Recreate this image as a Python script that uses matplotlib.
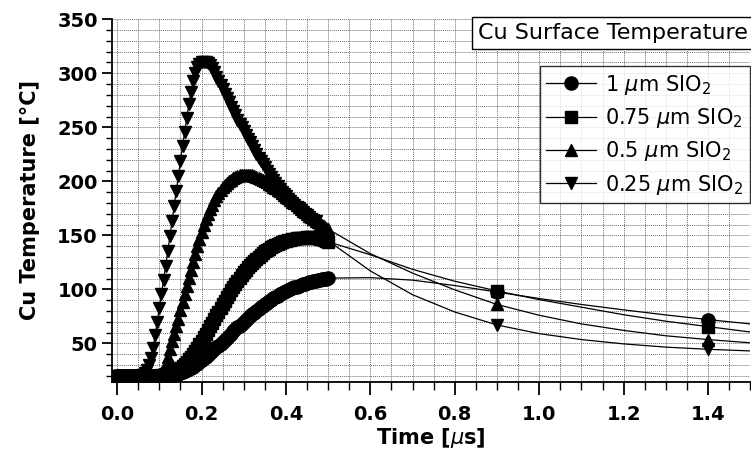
import numpy as np
import matplotlib
matplotlib.use("Agg")
import matplotlib.pyplot as plt

# simulated part, 0 .. 0.5 us every 5 ns
t_sim = np.linspace(0, 0.5, 101)

temp_1um = [20] * 25 + [
    20.2, 20.5, 20.9, 21.4, 22.0, 22.6, 23.3, 24.1, 25.0, 26.0, 27.1, 28.3, 29.6, 31.2, 32.8, 34.5,
    36.1, 37.7, 39.4, 41.1, 42.8, 44.5, 46.2, 48.0, 49.8, 51.6,
    53.4, 55.3, 57.2, 59.1, 61.0, 62.9, 64.7, 66.5, 68.3, 70.0,
    71.7, 73.4, 75.1, 76.8, 78.5, 80.1, 81.7, 83.3, 84.9, 86.4,
    87.8, 89.2, 90.5, 91.8, 93.0, 94.2, 95.3, 96.4, 97.4, 98.4,
    99.3, 100.2, 101.0, 101.8, 102.6, 103.3, 104.0, 104.6, 105.2, 105.8,
    106.4, 106.9, 107.4, 107.9, 108.4, 108.8, 109.2, 109.6, 110.0, 110.4]

temp_075um = [20] * 20 + [
    20.2, 20.4, 20.7, 21.1, 21.6, 22.2, 23.0, 23.9, 25.0, 26.2,
    27.6, 29.2, 31.0, 33.0, 35.2, 37.6, 40.2, 43.0, 46.0, 49.1,
    52.3, 55.6, 59.0, 62.4, 65.8, 69.2, 72.6, 76.0, 79.4, 82.8,
    86.2, 89.5, 92.8, 96.0, 99.1, 102.1, 105.0, 107.8, 110.5, 113.1,
    115.6, 118.0, 120.3, 122.5, 124.6, 126.6, 128.5, 130.3, 132.0, 133.6,
    135.1, 136.5, 137.8, 139.0, 140.1, 141.1, 142.0, 142.8, 143.6, 144.3,
    144.9, 145.5, 146.0, 146.4, 146.8, 147.1, 147.4, 147.6, 147.8, 147.9,
    148.0, 148.0, 148.0, 147.9, 147.8, 147.6, 147.0, 146.5, 146.0, 145.0, 144.0]

temp_05um = [20] * 18 + [
    20.3, 20.7, 21.4, 22.6, 24.6, 31.0, 37.5, 45.0, 52.0, 59.0,
    66.0, 73.0, 80.5, 88.0, 95.5, 103.0, 110.5, 118.0, 125.5, 133.0,
    140.0, 147.0, 153.5, 159.5, 165.0, 170.0, 174.5, 178.5, 182.5, 186.0,
    189.0, 192.0, 194.5, 196.5, 198.5, 200.0, 201.5, 202.7, 203.8, 204.7,
    205.4, 205.9, 206.2, 206.3, 206.2, 205.9, 205.4, 204.8, 204.1, 203.3,
    202.4, 201.4, 200.3, 199.1, 197.8, 196.5, 195.1, 193.6, 192.1, 190.6,
    189.0, 187.4, 185.8, 184.1, 182.4, 181.0, 179.5, 177.8, 176.1, 174.4,
    172.8, 171.2, 169.6, 168.1, 166.6, 165.1, 163.7, 162.3, 160.9, 159.6,
    158.3, 157.0, 155.8]

# 0.25 um run: simulated values stop at 0.47 us
temp_025um = [20] * 12 + [
    20.8, 22.3, 25.0, 29.5, 36.5, 46.0, 57.5, 70.0, 83.0, 96.0,
    109.0, 122.0, 135.5, 149.0, 163.0, 177.0, 191.0, 205.0, 219.0, 233.0,
    246.0, 259.0, 271.5, 283.0, 293.0, 300.5, 305.5, 308.5, 310.0, 310.5,
    310.5, 309.5, 307.5, 304.5, 301.0, 297.0, 293.0, 289.0, 285.0, 281.0,
    277.0, 273.0, 269.0, 265.0, 261.0, 257.0, 253.5, 250.0, 246.5, 243.0,
    239.5, 236.0, 232.5, 229.0, 225.5, 222.0, 219.0, 216.0, 213.0, 210.0,
    207.0, 204.0, 201.0, 198.0, 195.5, 193.0, 190.5, 188.0, 186.0, 184.0,
    182.0, 180.0, 178.0, 176.5, 175.0, 173.0, 171.5, 170.0, 168.5, 167.0,
    165.5, 164.5, 163.0]

# cooling part, sparse points
t_tail = [0.6, 0.7, 0.8, 0.9, 1.0, 1.1, 1.2, 1.3, 1.4, 1.5]
tail_1um = [110.8, 108.5, 103.5, 97.5, 91.5, 86.0, 81.0, 76.3, 72.0, 68.0]
tail_075um = [132.0, 118.5, 107.5, 98.5, 90.5, 83.5, 76.5, 70.5, 65.5, 60.5]
tail_05um = [133.0, 115.0, 99.5, 86.0, 76.0, 68.0, 62.0, 57.0, 53.5, 50.5]
t_tail_025 = [0.5] + t_tail
tail_025um = [145.0, 117.0, 95.0, 79.0, 67.0, 59.0, 53.5, 49.5, 46.5, 44.5, 43.0]

marked_times = [0.9, 1.4]

labels = [r'1 $\mu$m SIO$_2$', r'0.75 $\mu$m SIO$_2$',
          r'0.5 $\mu$m SIO$_2$', r'0.25 $\mu$m SIO$_2$']

plt.rcParams['font.family'] = ['DejaVu Sans']
plt.rcParams['mathtext.fontset'] = 'dejavusans'

fig = plt.figure(figsize=(7.51, 4.58), dpi=100)
ax = fig.add_axes([0.1487, 0.1666, 0.8503, 0.7913])

series = [
    (list(t_sim), temp_1um, t_tail, tail_1um, 'o', 9.5),
    (list(t_sim), temp_075um, t_tail, tail_075um, 's', 8.5),
    (list(t_sim), temp_05um, t_tail, tail_05um, '^', 9.0),
    (list(t_sim[:len(temp_025um)]), temp_025um, t_tail_025, tail_025um, 'v', 9.0),
]

for (ts, ys, tt, yt, mk, ms), lab in zip(series, labels):
    n = len(ys)
    marks = list(range(n)) + [n + i for i, t in enumerate(tt) if t in marked_times]
    ax.plot(ts + list(tt), list(ys) + list(yt), color='black', lw=0.9,
            marker=mk, markersize=ms, markevery=marks, label=lab)

ax.set_xlim(-0.013, 1.5)
ax.set_ylim(14.5, 350)
ax.set_xticks(np.arange(0, 1.41, 0.2))
ax.set_xticks(np.arange(0, 1.51, 0.05), minor=True)
ax.set_yticks(np.arange(50, 351, 50))
ax.set_yticks(np.arange(20, 351, 10), minor=True)
ax.xaxis.set_major_formatter(matplotlib.ticker.FormatStrFormatter('%.1f'))
ax.grid(which='both', color='#707070', linestyle=(0, (1, 1)), linewidth=0.7)
ax.set_axisbelow(True)

for s in ['top', 'right']:
    ax.spines[s].set_visible(False)
for s in ['left', 'bottom']:
    ax.spines[s].set_linewidth(1.3)

ax.tick_params(which='major', direction='out', width=1.3, labelsize=14)
ax.tick_params(axis='x', which='major', length=9, pad=8)
ax.tick_params(axis='y', which='major', length=7, pad=3)
ax.tick_params(axis='x', which='minor', direction='out', length=6, width=1.0)
ax.tick_params(axis='y', which='minor', direction='out', length=4, width=1.0)
for lb in ax.get_xticklabels() + ax.get_yticklabels():
    lb.set_fontweight('bold')

ax.set_xlabel(r'Time [$\mu$s]', fontsize=15, fontweight='bold', labelpad=1)
ax.set_ylabel('Cu Temperature [°C]', fontsize=15, fontweight='bold', labelpad=12)

leg = ax.legend(loc='upper right', bbox_to_anchor=(0.999, 0.87), fontsize=15,
                frameon=True, fancybox=False, edgecolor='black', handlelength=2.4,
                handletextpad=0.45, labelspacing=0.45, borderpad=0.3, borderaxespad=0)
leg.get_frame().set_linewidth(1.0)
leg.set_zorder(5)

ax.text(0.997, 0.99, 'Cu Surface Temperature', transform=ax.transAxes,
        ha='right', va='top', fontsize=16,
        bbox=dict(boxstyle='square,pad=0.28', fc='white', ec='black', lw=1.0),
        zorder=6)

fig.savefig('out.png', dpi=100)
